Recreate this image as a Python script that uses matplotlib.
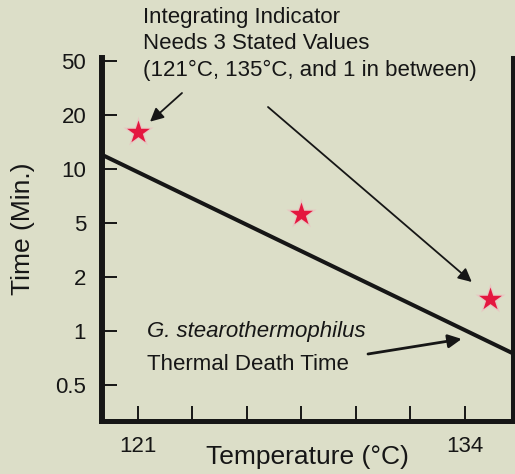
import numpy as np
import matplotlib.pyplot as plt
import matplotlib.font_manager as fm

# y axis labels, evenly spaced on the chart even though the ratios differ
time_ticks = [0.5, 1, 2, 5, 10, 20, 50]

# temperature axis: seven tick marks, only the ends labelled
temp_ticks = np.linspace(121, 134, 7)
temp_labels = ['121', '', '', '', '', '', '134']

# indicator stated values (stars)
star_temp = [121, 127.5, 135]
star_time = [16, 5.6, 1.5]

# thermal death time line endpoints
tdt_temp = [119.55, 135.9]
tdt_time = [12.0, 0.75]

bg = '#dcdec8'
ink = '#161616'

names = {f.name for f in fm.fontManager.ttflist}
font = 'Liberation Sans Narrow' if 'Liberation Sans Narrow' in names else 'Liberation Sans'
plt.rcParams['font.family'] = font

lt = np.log10(time_ticks)
pos = np.arange(len(time_ticks), dtype=float)


def forward(v):
    lv = np.log10(np.clip(np.asarray(v, dtype=float), 1e-9, None))
    p = np.interp(lv, lt, pos)
    lo = lv < lt[0]
    hi = lv > lt[-1]
    p = np.where(lo, (lv - lt[0]) / (lt[1] - lt[0]), p)
    p = np.where(hi, pos[-1] + (lv - lt[-1]) / (lt[-1] - lt[-2]), p)
    return p


def inverse(p):
    p = np.asarray(p, dtype=float)
    lv = np.interp(p, pos, lt)
    lv = np.where(p < 0, lt[0] + p * (lt[1] - lt[0]), lv)
    lv = np.where(p > pos[-1], lt[-1] + (p - pos[-1]) * (lt[-1] - lt[-2]), lv)
    return 10 ** lv


W, H = 515, 474
fig = plt.figure(figsize=(W / 100, H / 100), dpi=100, facecolor=bg)
L, R, T, B = 101.5, 512.5, 58, 420.5
ax = fig.add_axes([L / W, 1 - B / H, (R - L) / W, (B - T) / H])
ax.set_facecolor(bg)

ax.set_yscale('function', functions=(forward, inverse))
ax.set_xlim(tdt_temp[0], tdt_temp[1])
ax.set_ylim(0.316, 52.4)

ax.plot(tdt_temp, tdt_time, color=ink, lw=2.9, solid_capstyle='butt', zorder=3)

# soft halo behind the stars, then the stars
ax.scatter(star_temp, star_time, marker='*', s=520, color='#f2b0bc', alpha=0.5,
           linewidths=0, zorder=4)
ax.scatter(star_temp, star_time, marker='*', s=300, color='#e4173f',
           linewidths=0, zorder=5)

ax.set_yticks(time_ticks)
ax.set_yticklabels([f'{t:g}' for t in time_ticks])
ax.yaxis.set_minor_locator(plt.NullLocator())
ax.set_xticks(temp_ticks)
ax.set_xticklabels(temp_labels)

ax.tick_params(axis='both', direction='in', length=10.8, width=1.4, color=ink,
               labelsize=16, labelcolor=ink)
ax.tick_params(axis='y', pad=11)
ax.tick_params(axis='x', pad=11)

ax.spines['top'].set_visible(False)
ax.spines['left'].set_linewidth(4.3)
ax.spines['bottom'].set_linewidth(3.6)
ax.spines['right'].set_linewidth(2.9)
for s in ax.spines.values():
    s.set_color(ink)
    s.set_capstyle('projecting')

ax.set_xlabel('Temperature (°C)', fontsize=19, color=ink, va='center')
ax.xaxis.set_label_coords(0.5, -0.10)
ax.set_ylabel('Time (Min.)', fontsize=19, color=ink, va='center')
ax.yaxis.set_label_coords(-0.19, 0.528)


def fp(x, y):
    return (x / W, 1 - y / H)


note = ('Integrating Indicator\nNeeds 3 Stated Values\n'
        '(121°C, 135°C, and 1 in between)')
fig.text(*fp(143, 7), note, fontsize=16, color=ink, ha='left', va='top',
         linespacing=1.33)

arrow = dict(arrowstyle='-|>', color=ink, lw=1.3, mutation_scale=20,
             shrinkA=0, shrinkB=0)
ax.annotate('', xy=(121.48, 18.3), xytext=fp(182, 93),
            textcoords='figure fraction', arrowprops=arrow)
ax.annotate('', xy=(134.28, 1.87), xytext=fp(268, 107),
            textcoords='figure fraction', arrowprops=arrow)
ax.annotate('', xy=(133.88, 0.9), xytext=fp(368, 354),
            textcoords='figure fraction', arrowprops=dict(arrow, lw=2))

fig.text(*fp(147, 331), 'G. stearothermophilus', fontsize=16, style='italic',
         color=ink, ha='left', va='center')
fig.text(*fp(147, 364), 'Thermal Death Time', fontsize=16, color=ink,
         ha='left', va='center')

fig.savefig('out.png', dpi=100, facecolor=bg)
